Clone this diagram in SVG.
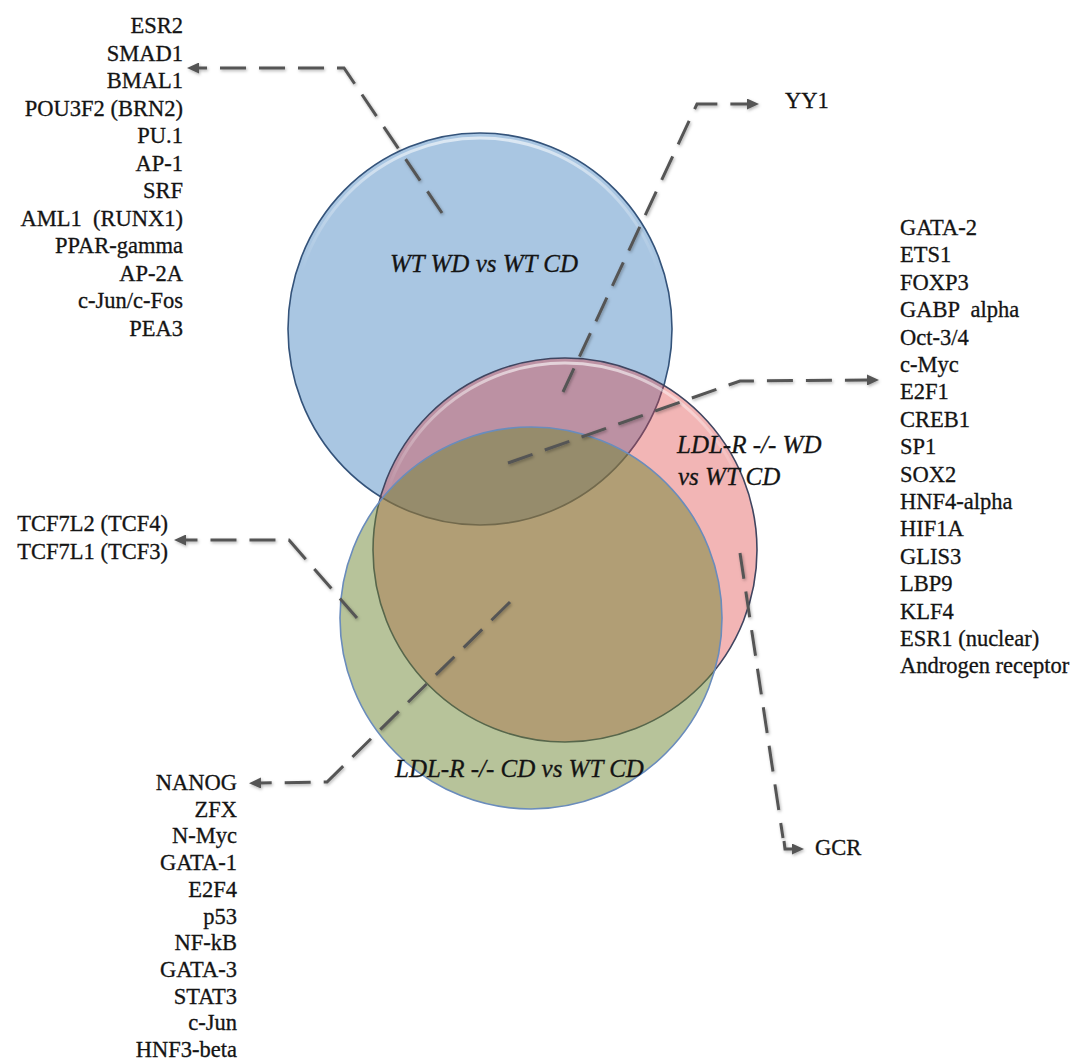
<svg xmlns="http://www.w3.org/2000/svg" width="1078" height="1061" viewBox="0 0 1078 1061">
<style>
  .lst { font-family: 'Liberation Serif', 'DejaVu Serif', serif; font-size: 22.5px; fill: #141414; stroke: #141414; stroke-width: 0.3; }
  .end { text-anchor: end; }
  .lbl { font-family: 'Liberation Serif', 'DejaVu Serif', serif; font-size: 25px; font-style: italic; fill: #141414; stroke: #141414; stroke-width: 0.3; }
  .con { fill: none; stroke: #555555; stroke-width: 3; stroke-dasharray: 26 13; filter: url(#sh); }
  .solid { fill: none; stroke: #555555; stroke-width: 3; filter: url(#sh); }
</style>
<defs>
  <marker id="arr" viewBox="0 0 12 11" refX="1" refY="5.5" markerWidth="12" markerHeight="11" markerUnits="userSpaceOnUse" orient="auto">
    <path d="M0,0 L12,5.5 L0,11 z" fill="#555555"/>
  </marker>
  <filter id="sh" filterUnits="userSpaceOnUse" x="0" y="0" width="1078" height="1061">
    <feDropShadow dx="1" dy="1.5" stdDeviation="1.5" flood-color="#000" flood-opacity="0.3"/>
  </filter>
  <linearGradient id="rim" x1="0" y1="0" x2="0" y2="1">
    <stop offset="0" stop-color="#ffffff" stop-opacity="0.6"/>
    <stop offset="0.35" stop-color="#ffffff" stop-opacity="0"/>
  </linearGradient>
</defs>

<g id="circle-wt-wd">
  <ellipse cx="480" cy="329" rx="192" ry="196" fill="#a9c6e2" stroke="#34537a" stroke-width="1.6"/>
  <ellipse cx="480" cy="329" rx="187" ry="191" fill="none" stroke="url(#rim)" stroke-width="3"/>
</g>
<g id="circle-ldlr-wd">
  <circle cx="565" cy="550" r="192" fill="rgb(220,60,60)" fill-opacity="0.38" stroke="#3f4560" stroke-width="1.6"/>
  <circle cx="565" cy="550" r="187" fill="none" stroke="url(#rim)" stroke-width="3"/>
</g>
<g id="circle-ldlr-cd">
  <circle cx="531" cy="618" r="191" fill="rgb(111,135,53)" fill-opacity="0.5" stroke="#6a8cbc" stroke-width="1.6"/>
</g>

<g id="labels">
  <text class="lbl" x="484" y="272" text-anchor="middle">WT WD vs WT CD</text>
  <text class="lbl" x="677" y="453">LDL-R -/- WD</text>
  <text class="lbl" x="678" y="485">vs WT CD</text>
  <text class="lbl" x="395" y="777">LDL-R -/- CD vs WT CD</text>
</g>

<g id="connectors">
  <path class="con" d="M442,213 L344,68 L198,68" marker-end="url(#arr)"/>
  <path class="con" d="M563,392 L697,104 L748,104" marker-end="url(#arr)"/>
  <path class="con" d="M508,463 L740,381 L868,380" marker-end="url(#arr)"/>
  <path class="con" d="M357,618 L289,540 L185,540" marker-end="url(#arr)"/>
  <path class="con" d="M510,602 L327,782 L260,783" marker-end="url(#arr)"/>
  <path class="con" d="M740,553 L783,838"/>
  <path class="solid" d="M784,841 L785,849 L793,849" marker-end="url(#arr)"/>
</g>

<g id="list-wt-wd" class="lst end">
  <text x="183" y="33">ESR2</text>
  <text x="183" y="60.5">SMAD1</text>
  <text x="183" y="88">BMAL1</text>
  <text x="183" y="115.5">POU3F2 (BRN2)</text>
  <text x="183" y="143">PU.1</text>
  <text x="183" y="170.5">AP-1</text>
  <text x="183" y="198">SRF</text>
  <text x="183" y="225.5" xml:space="preserve">AML1  (RUNX1)</text>
  <text x="183" y="253">PPAR-gamma</text>
  <text x="183" y="280.5">AP-2A</text>
  <text x="183" y="308">c-Jun/c-Fos</text>
  <text x="183" y="335.5">PEA3</text>
</g>

<g id="node-yy1" class="lst">
  <text x="785" y="108">YY1</text>
</g>

<g id="list-all" class="lst">
  <text x="900" y="235">GATA-2</text>
  <text x="900" y="262.4">ETS1</text>
  <text x="900" y="289.8">FOXP3</text>
  <text x="900" y="317.2" xml:space="preserve">GABP  alpha</text>
  <text x="900" y="344.6">Oct-3/4</text>
  <text x="900" y="372">c-Myc</text>
  <text x="900" y="399.4">E2F1</text>
  <text x="900" y="426.8">CREB1</text>
  <text x="900" y="454.2">SP1</text>
  <text x="900" y="481.6">SOX2</text>
  <text x="900" y="509">HNF4-alpha</text>
  <text x="900" y="536.4">HIF1A</text>
  <text x="900" y="563.8">GLIS3</text>
  <text x="900" y="591.2">LBP9</text>
  <text x="900" y="618.6">KLF4</text>
  <text x="900" y="646">ESR1 (nuclear)</text>
  <text x="900" y="673.4">Androgen receptor</text>
</g>

<g id="list-tcf" class="lst end">
  <text x="168" y="531">TCF7L2 (TCF4)</text>
  <text x="168" y="559">TCF7L1 (TCF3)</text>
</g>

<g id="list-ldlr-cd" class="lst end">
  <text x="237" y="790">NANOG</text>
  <text x="237" y="816.7">ZFX</text>
  <text x="237" y="843.4">N-Myc</text>
  <text x="237" y="870.1">GATA-1</text>
  <text x="237" y="896.8">E2F4</text>
  <text x="237" y="923.5">p53</text>
  <text x="237" y="950.2">NF-kB</text>
  <text x="237" y="976.9">GATA-3</text>
  <text x="237" y="1003.6">STAT3</text>
  <text x="237" y="1030.3">c-Jun</text>
  <text x="237" y="1057">HNF3-beta</text>
</g>

<g id="node-gcr" class="lst">
  <text x="815" y="855">GCR</text>
</g>
</svg>
